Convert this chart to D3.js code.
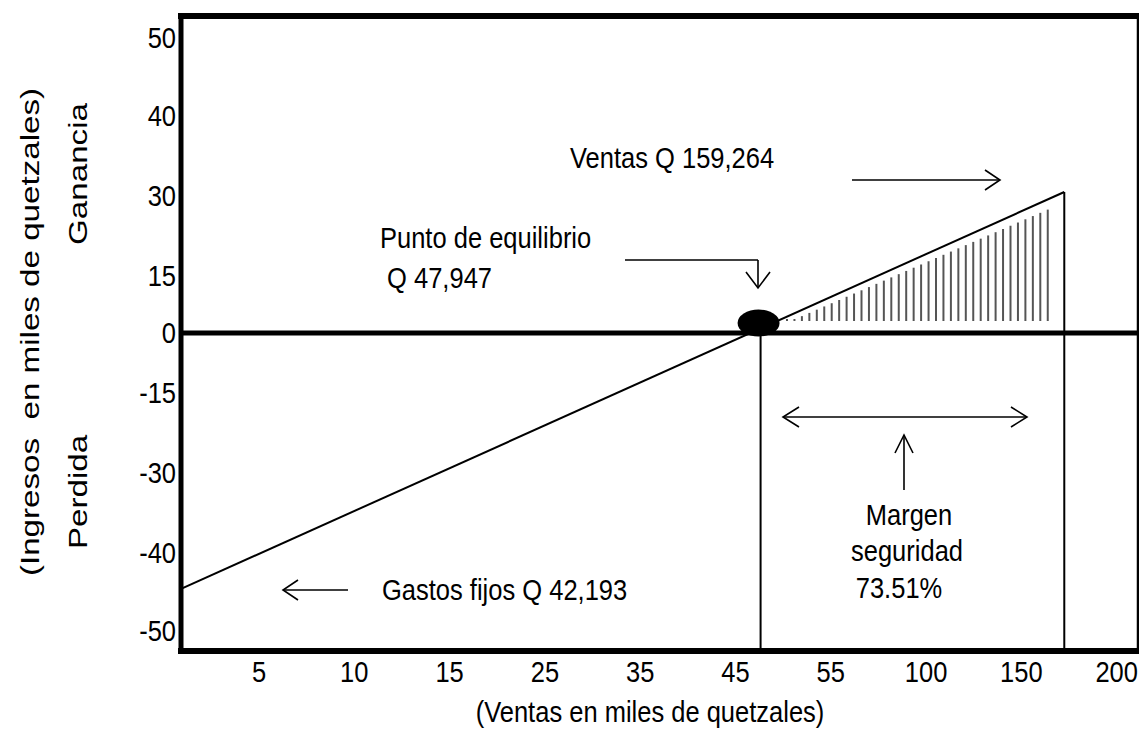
<!DOCTYPE html>
<html><head><meta charset="utf-8">
<script src="https://cdn.jsdelivr.net/npm/d3@7"></script>
<style>body{margin:0;background:#fff} text{font-family:"Liberation Sans",Arial,Helvetica,sans-serif;fill:#000;white-space:pre}</style>
</head><body>
<svg id="c" width="1139" height="735"></svg>
<script>
// ---- data ----
const xTicks = [5,10,15,25,35,45,55,100,150,200];
const yTicks = [50,40,30,15,0,-15,-30,-40,-50];
const breakEven = 47.947;          // miles de Q
const lineStart = {x: 0, y: -44.6};  // gastos fijos end of line
const lineEnd = {x: 172.5, y: 30.5}; // ventas end of line
const labels = {
  ventas: "Ventas Q 159,264",
  punto1: "Punto de equilibrio",
  punto2: " Q 47,947",
  gastos: "Gastos fijos Q 42,193",
  margen: ["Margen", "seguridad", "73.51%"],
  xTitle: "(Ventas en miles de quetzales)",
  yTitle: "(Ingresos  en miles de quetzales)",
  gan: "Ganancia",
  per: "Perdida"
};

// ---- layout ----
const L = 181, R = 1137, T = 16, B = 651;
const svg = d3.select("#c");
const x0 = 259, xStep = 95.3;
const x = d3.scaleLinear()
  .domain([0, ...xTicks])
  .range([L, ...xTicks.map((d,i) => x0 + i*xStep)]);
const yPos = [38,116,196,276,333,393,473,553,631];
const y = d3.scaleLinear().domain(yTicks).range(yPos);
const FS = 25.5, SY = 1.17, SR = 1.3;

function txt(str, px, py, anchor, rot) {
  svg.append("text")
    .attr("transform", rot ? `translate(${px},${py}) rotate(-90) scale(${SR},1)` : `translate(${px},${py}) scale(1,${SY})`)
    .attr("text-anchor", anchor || "start")
    .attr("dominant-baseline", "central")
    .attr("font-size", FS)
    .text(str);
}

// hatch area (ganancia)
const lx1 = x(lineStart.x), ly1 = y(lineStart.y), lx2 = x(lineEnd.x), ly2 = y(lineEnd.y);
const lineAt = px => ly1 + (ly2 - ly1) * (px - lx1) / (lx2 - lx1);
const hatchBottom = 321;
const hx = d3.range(787, 1049, 7.45);
svg.append("g").selectAll("line").data(hx).join("line")
  .attr("x1", d => d).attr("x2", d => d)
  .attr("y1", hatchBottom)
  .attr("y2", d => Math.min(hatchBottom - 2, lineAt(d) + 6 + (d - 787) * 0.016))
  .attr("stroke", "#555").attr("stroke-width", 2);

// main line
svg.append("path")
  .datum([lineStart, lineEnd])
  .attr("d", d3.line().x(d => x(d.x)).y(d => y(d.y)))
  .attr("fill", "none").attr("stroke", "#000").attr("stroke-width", 2);

// verticals
svg.append("line").attr("x1", x(breakEven) - 3).attr("x2", x(breakEven) - 3)
  .attr("y1", y(0)).attr("y2", B).attr("stroke", "#000").attr("stroke-width", 2);
svg.append("line").attr("x1", x(lineEnd.x)).attr("x2", x(lineEnd.x))
  .attr("y1", y(lineEnd.y)).attr("y2", B).attr("stroke", "#000").attr("stroke-width", 2);

// frame
const frame = svg.append("g").attr("stroke", "#000").attr("fill", "none");
frame.append("line").attr("x1", L-3).attr("x2", 1139).attr("y1", T).attr("y2", T).attr("stroke-width", 6);
frame.append("line").attr("x1", L).attr("x2", L).attr("y1", T-3).attr("y2", B+3).attr("stroke-width", 5);
frame.append("line").attr("x1", L-3).attr("x2", 1139).attr("y1", B).attr("y2", B).attr("stroke-width", 6);
frame.append("line").attr("x1", R+1).attr("x2", R+1).attr("y1", T).attr("y2", B).attr("stroke-width", 2.5);
frame.append("line").attr("x1", L).attr("x2", 1139).attr("y1", y(0)).attr("y2", y(0)).attr("stroke-width", 5);

// break-even marker
svg.append("ellipse").attr("cx", x(breakEven) - 5).attr("cy", y(0) - 10).attr("rx", 21).attr("ry", 13.5).attr("fill", "#000");

// tick labels
yTicks.forEach(v => txt(String(v), 176, y(v), "end"));
xTicks.forEach(v => txt(String(v), x(v), 672, "middle"));

// axis titles
txt(labels.xTitle, 650, 712, "middle");
txt(labels.yTitle, 30, 332, "middle", true);
txt(labels.gan, 78, 174, "middle", true);
txt(labels.per, 78, 492, "middle", true);

// annotations
const ann = svg.append("g").attr("stroke", "#000").attr("fill", "none").attr("stroke-width", 1.6);
function arrowHead(px, py, dx, dy, len, w) {
  const bx = px - dx*len, by = py - dy*len;
  ann.append("polyline").attr("points", `${bx - dy*w},${by + dx*w} ${px},${py} ${bx + dy*w},${by - dx*w}`);
}
// ventas arrow
ann.append("line").attr("x1", 852).attr("x2", 1000).attr("y1", 180).attr("y2", 180);
arrowHead(1000, 180, 1, 0, 15, 10);
txt(labels.ventas, 570, 158, "start");
// punto de equilibrio
txt(labels.punto1, 380, 238, "start");
txt(labels.punto2, 380, 278, "start");
ann.append("line").attr("x1", 625).attr("x2", 758).attr("y1", 260).attr("y2", 260);
ann.append("line").attr("x1", 758).attr("x2", 758).attr("y1", 260).attr("y2", 288);
arrowHead(758, 288, 0, 1, 16, 12);
// gastos fijos
ann.append("line").attr("x1", 283).attr("x2", 348).attr("y1", 590).attr("y2", 590);
arrowHead(283, 590, -1, 0, 15, 10);
txt(labels.gastos, 382, 590, "start");
// margen de seguridad
ann.append("line").attr("x1", 783).attr("x2", 1027).attr("y1", 417).attr("y2", 417);
arrowHead(783, 417, -1, 0, 16, 10);
arrowHead(1027, 417, 1, 0, 16, 10);
ann.append("line").attr("x1", 904).attr("x2", 904).attr("y1", 490).attr("y2", 435);
arrowHead(904, 435, 0, -1, 18, 9);
txt(labels.margen[0], 909, 515, "middle");
txt(labels.margen[1], 907, 551, "middle");
txt(labels.margen[2], 899, 588, "middle");
</script>
</body></html>
